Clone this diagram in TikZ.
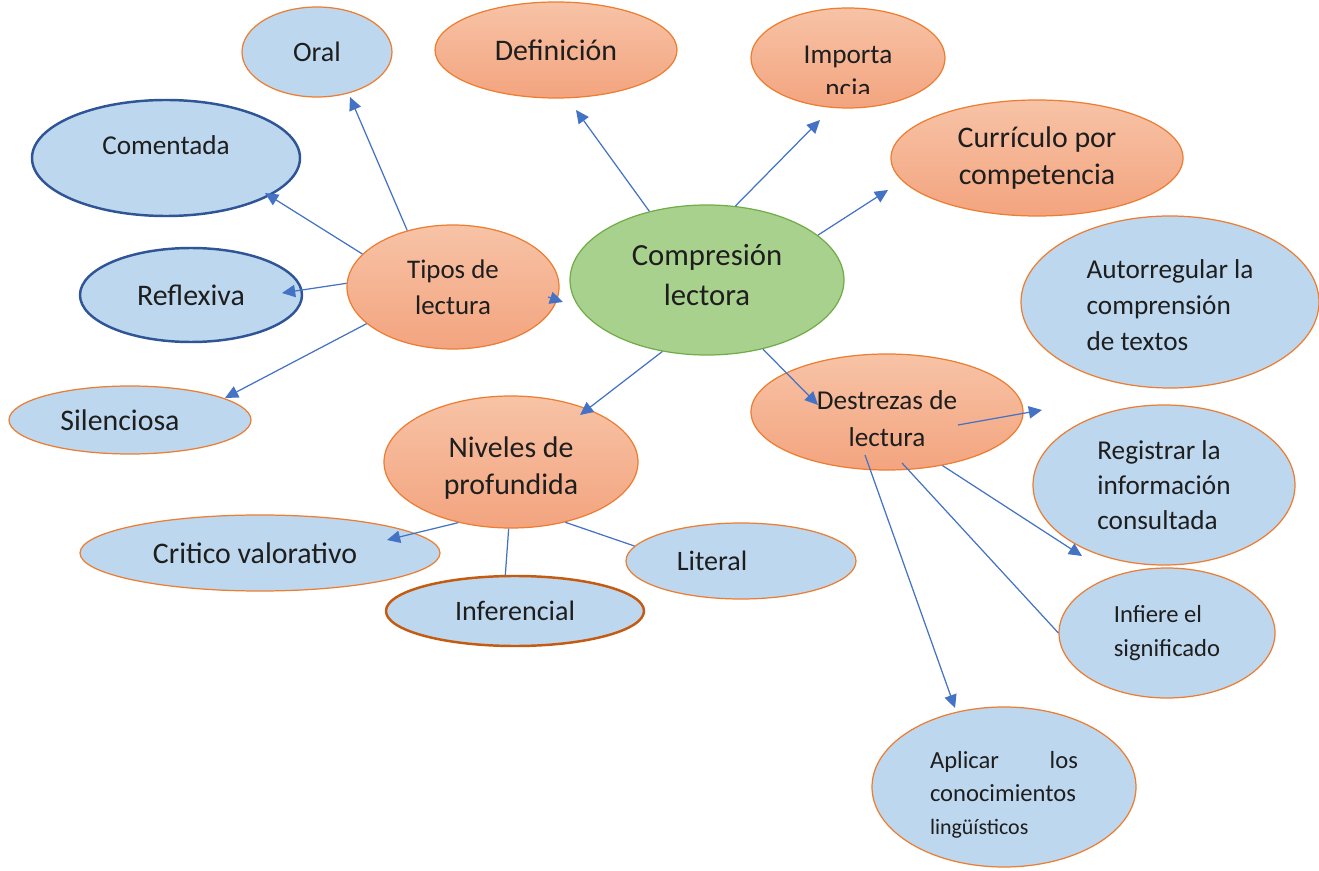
\documentclass[tikz,border=0pt]{standalone}
\usepackage{fontspec}
\setmainfont{Carlito}
\usetikzlibrary{shapes.geometric,arrows.meta}
\definecolor{naranja}{HTML}{ED7D31}
\definecolor{salmonA}{HTML}{F7C3A6}
\definecolor{salmonB}{HTML}{F3A47F}
\definecolor{celesteF}{HTML}{BDD7EE}
\definecolor{verdeF}{HTML}{A9D18E}
\definecolor{verdeB}{HTML}{70AD47}
\definecolor{azulOsc}{HTML}{2F5597}
\definecolor{rojizo}{HTML}{C55A11}
\definecolor{azul}{HTML}{4472C4}
\definecolor{tinta}{HTML}{1E1E1E}

\begin{document}
\begin{tikzpicture}[x=0.02cm,y=-0.02cm,
  sz/.style 2 args={minimum width=#1*0.02cm,minimum height=#2*0.02cm},
  elip/.style={ellipse,inner sep=0pt,text=tinta,align=center},
  lbl/.style={inner sep=0pt,text=tinta,align=center},
  celeste/.style={elip,draw=naranja,fill=celesteF,line width=0.7pt},
  celesteOsc/.style={elip,draw=azulOsc,fill=celesteF,line width=1.4pt},
  celesteRoj/.style={elip,draw=rojizo,fill=celesteF,line width=1.4pt},
  salmon/.style={elip,draw=naranja,top color=salmonA,bottom color=salmonB,line width=0.7pt},
  verde/.style={elip,draw=verdeB,fill=verdeF,line width=0.7pt},
  flecha/.style={draw=azul,line width=0.7pt,-{Triangle[length=7.5pt,width=7pt]}},
  linea/.style={draw=azul,line width=0.7pt}]
\useasboundingbox (0,0) rectangle (1319,871);

% centro
\node[verde,sz={274}{150},label={[lbl,yshift=0.1cm,font=\fontsize{17.5}{22.7}\selectfont]center:Compresión\\lectora}] (compresion) at (707,280) {};

% arriba
\node[salmon,sz={242}{96},font=\fontsize{17}{20}\selectfont] (definicion) at (556,50) {Definición};
\node[salmon,sz={194}{100}] (importancia) at (848,58) {};
\begin{scope}
\clip (751,0) rectangle (945,94);
\node[elip,font=\fontsize{15.5}{19.3}\selectfont] (importanciaTxt) at (848,72) {Importa\\ncia};
\end{scope}
\node[salmon,sz={292}{116},font=\fontsize{17}{21.5}\selectfont] (curriculo) at (1037,158) {Currículo por\\competencia};

% tipos de lectura
\node[salmon,sz={212}{124},font=\fontsize{15.3}{20.4}\selectfont] (tipos) at (453,287) {Tipos de\\lectura};
\node[celeste,sz={150}{90},font=\fontsize{16}{20}\selectfont] (oral) at (317,52) {Oral};
\node[celesteOsc,sz={268}{116},font=\fontsize{15.5}{20}\selectfont] (comentada) at (166,158) {\raisebox{0.52cm}{Comentada}};
\node[celesteOsc,sz={222}{94},font=\fontsize{17}{20}\selectfont] (reflexiva) at (191,295) {Reflexiva};
\node[celeste,sz={242}{68},font=\fontsize{17}{20}\selectfont] (silenciosa) at (130,420) {Silenciosa\hspace{0.4cm}};

% niveles
\node[salmon,sz={254}{132},label={[lbl,yshift=-0.12cm,font=\fontsize{17}{21}\selectfont]center:Niveles de\\profundida}] (niveles) at (511,462) {};
\node[celeste,sz={360}{76},font=\fontsize{17}{20}\selectfont] (critico) at (260,553) {Critico valorativo\hspace{0.2cm}};
\node[celesteRoj,sz={258}{70},font=\fontsize{16}{20}\selectfont] (inferencial) at (515,611) {Inferencial};
\node[celeste,sz={230}{76},font=\fontsize{16}{20}\selectfont] (literal) at (741,561) {Literal\hspace{1.16cm}};

% destrezas
\node[salmon,sz={272}{116},label={[lbl,yshift=-0.14cm,font=\fontsize{15.5}{21}\selectfont]center:Destrezas de\\lectura}] (destrezas) at (887,412) {};
\node[celeste,sz={298}{172},label={[lbl,align=left,yshift=-0.06cm,font=\fontsize{15.5}{20.4}\selectfont]center:Autorregular la\\comprensión\\de textos}] (autorregular) at (1170,302) {};
\node[celeste,sz={262}{160},align=left,font=\fontsize{15.5}{20}\selectfont] (registrar) at (1164,485) {Registrar la\\información\\consultada};
\node[celeste,sz={216}{130},align=left,font=\fontsize{14}{19}\selectfont] (infiere) at (1167,633) {Infiere el\\significado};
\node[celeste,sz={264}{160},label={[lbl,align=left,text width=2.96cm,yshift=-0.16cm,font=\fontsize{14}{18.7}\selectfont]center:Aplicar\hfill los\\conocimientos\\{\fontsize{12.5}{16}\selectfont lingüísticos}}] (aplicar) at (1004,787) {};

% puntas libres
\coordinate (pOral) at (350,97);
\coordinate (pComentada) at (265,193);
\coordinate (pReflexiva) at (282,293);
\coordinate (pSilenciosa) at (225,398);
\coordinate (qTipos) at (548,297);
\coordinate (pCompresion) at (563,302);
\coordinate (pDefinicion) at (576,110);
\coordinate (pImportancia) at (820,120);
\coordinate (pCurriculo) at (888,190);
\coordinate (pNiveles) at (580,415);
\coordinate (pDestrezas) at (818,405);
\coordinate (qDestrezas) at (958,425);
\coordinate (pRegistrar) at (1042,410);
\coordinate (pInfiere) at (1082,556);
\coordinate (rDestrezas) at (902,463);
\coordinate (sDestrezas) at (865,455);
\coordinate (pAplicar) at (955,708);
\coordinate (pCritico) at (387,540);

\draw[flecha] (tipos.129) -- (pOral);
\draw[flecha] (tipos.160) -- (pComentada);
\draw[flecha] (tipos.178) -- (pReflexiva);
\draw[flecha] (tipos.203) -- (pSilenciosa);
\draw[flecha] (qTipos) -- (pCompresion);

\draw[flecha] (compresion.130) -- (pDefinicion);
\draw[flecha] (compresion.69) -- (pImportancia);
\draw[flecha] (compresion.22) -- (pCurriculo);
\draw[flecha] (compresion.238) -- (pNiveles);
\draw[flecha] (compresion.309) -- (pDestrezas);

\draw[flecha] (qDestrezas) -- (pRegistrar);
\draw[flecha] (destrezas.316) -- (pInfiere);
\draw[linea] (rDestrezas) -- (infiere.west);
\draw[flecha] (sDestrezas) -- (pAplicar);

\draw[flecha] (niveles.229) -- (pCritico);
\draw[linea] (niveles.268) -- (inferencial.105);
\draw[linea] (niveles.312) -- (literal.172);
\end{tikzpicture}
\end{document}
